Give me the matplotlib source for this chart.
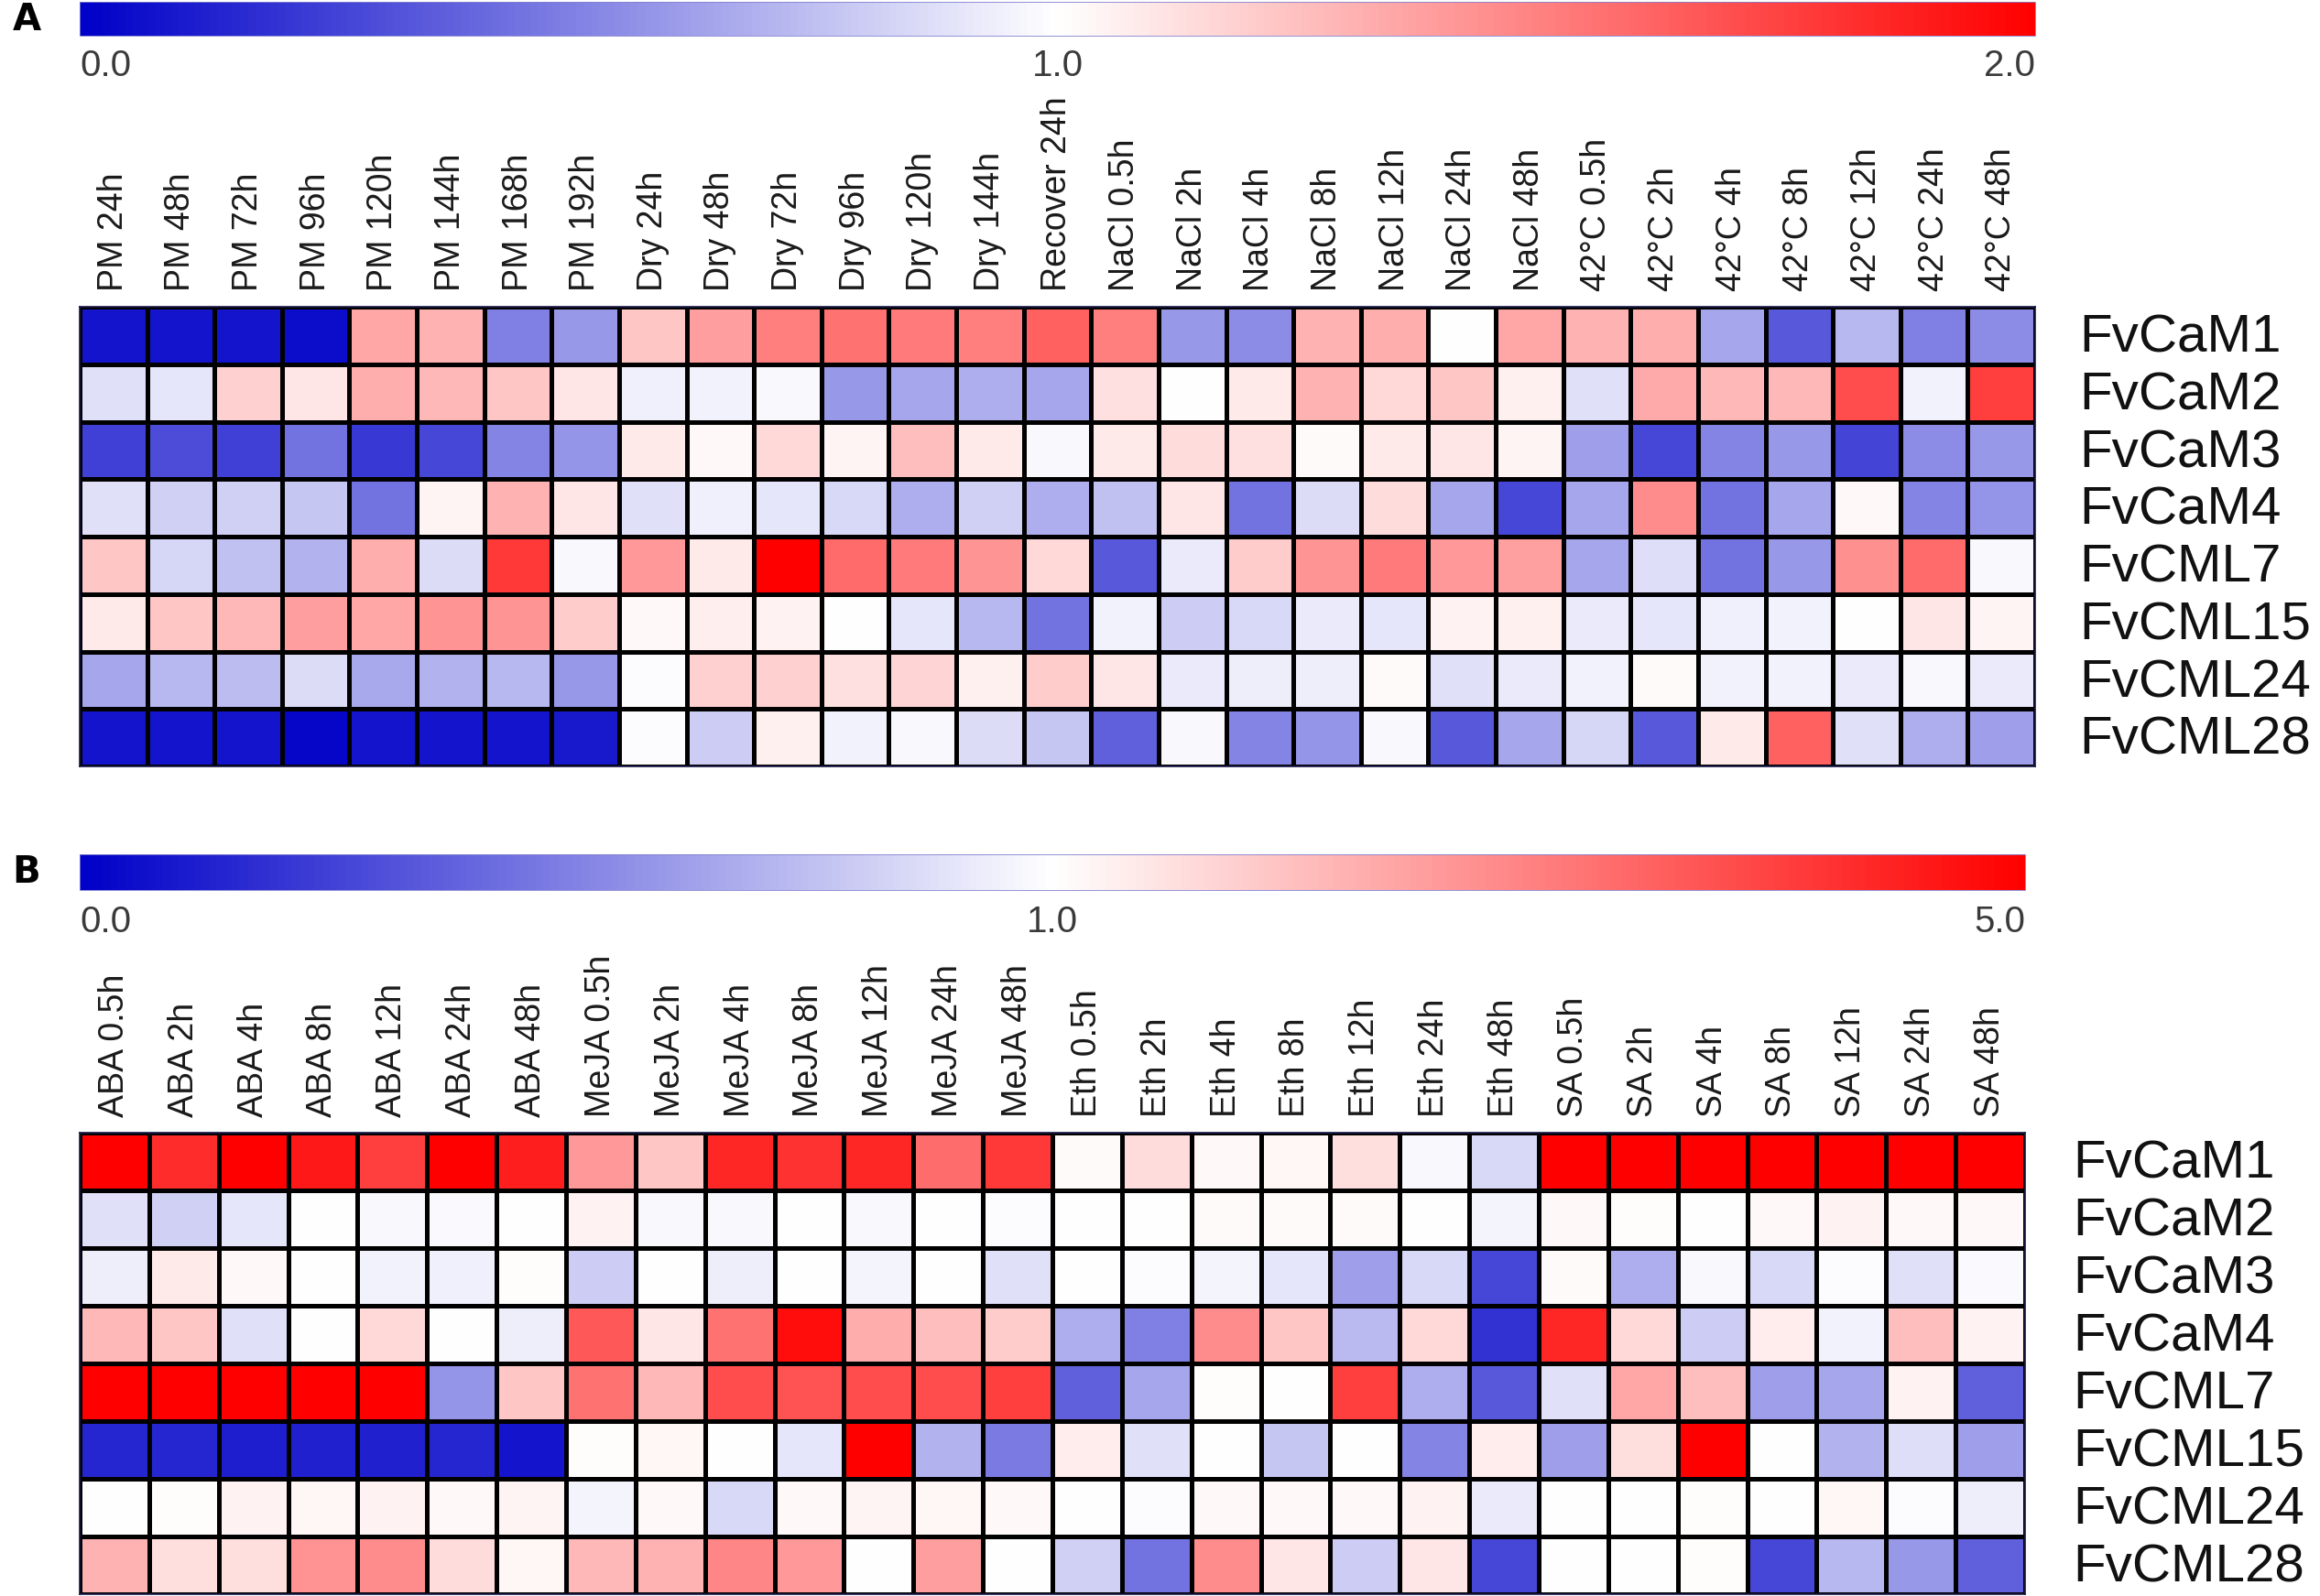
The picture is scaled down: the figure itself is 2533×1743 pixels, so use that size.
import numpy as np
import matplotlib
matplotlib.use("Agg")
import matplotlib.pyplot as plt
import matplotlib.transforms as mtransforms
from matplotlib.colors import LinearSegmentedColormap, Normalize, TwoSlopeNorm

plt.rcParams['font.family'] = ['Liberation Sans', 'DejaVu Sans']

genes = ["FvCaM1", "FvCaM2", "FvCaM3", "FvCaM4", "FvCML7", "FvCML15", "FvCML24", "FvCML28"]

cols_a = ["PM 24h", "PM 48h", "PM 72h", "PM 96h", "PM 120h", "PM 144h", "PM 168h", "PM 192h",
          "Dry 24h", "Dry 48h", "Dry 72h", "Dry 96h", "Dry 120h", "Dry 144h", "Recover 24h",
          "NaCl 0.5h", "NaCl 2h", "NaCl 4h", "NaCl 8h", "NaCl 12h", "NaCl 24h", "NaCl 48h",
          "42°C 0.5h", "42°C 2h", "42°C 4h", "42°C 8h", "42°C 12h", "42°C 24h", "42°C 48h"]

cols_b = ["ABA 0.5h", "ABA 2h", "ABA 4h", "ABA 8h", "ABA 12h", "ABA 24h", "ABA 48h",
          "MeJA 0.5h", "MeJA 2h", "MeJA 4h", "MeJA 8h", "MeJA 12h", "MeJA 24h", "MeJA 48h",
          "Eth 0.5h", "Eth 2h", "Eth 4h", "Eth 8h", "Eth 12h", "Eth 24h", "Eth 48h",
          "SA 0.5h", "SA 2h", "SA 4h", "SA 8h", "SA 12h", "SA 24h", "SA 48h"]

# Panel A relative expression (0-2, 1 = no change)
a_cam1 = [0.08, 0.08, 0.08, 0.05, 1.35, 1.30, 0.50, 0.60, 1.22, 1.38, 1.50, 1.55, 1.52, 1.50, 1.62,
          1.50, 0.60, 0.55, 1.30, 1.32, 1.00, 1.35, 1.30, 1.32, 0.65, 0.35, 0.72, 0.50, 0.55]
a_cam2 = [0.88, 0.90, 1.18, 1.10, 1.32, 1.28, 1.22, 1.10, 0.94, 0.95, 0.97, 0.60, 0.65, 0.68, 0.65,
          1.12, 1.00, 1.08, 1.30, 1.15, 1.22, 1.06, 0.88, 1.33, 1.28, 1.28, 1.70, 0.95, 1.75]
a_cam3 = [0.25, 0.30, 0.25, 0.45, 0.22, 0.28, 0.52, 0.58, 1.08, 1.03, 1.15, 1.04, 1.25, 1.08, 0.97,
          1.08, 1.14, 1.12, 1.02, 1.08, 1.10, 1.04, 0.62, 0.28, 0.52, 0.60, 0.27, 0.55, 0.60]
a_cam4 = [0.88, 0.82, 0.82, 0.78, 0.45, 1.04, 1.30, 1.10, 0.88, 0.94, 0.90, 0.85, 0.68, 0.82, 0.68,
          0.75, 1.10, 0.45, 0.86, 1.14, 0.65, 0.28, 0.65, 1.45, 0.45, 0.65, 1.03, 0.52, 0.58]
a_cml7 = [1.22, 0.84, 0.75, 0.70, 1.32, 0.86, 1.78, 0.97, 1.40, 1.08, 2.00, 1.58, 1.52, 1.42, 1.15,
          0.35, 0.92, 1.20, 1.42, 1.52, 1.40, 1.37, 0.65, 0.87, 0.45, 0.60, 1.43, 1.58, 0.97]
a_cml15 = [1.08, 1.22, 1.28, 1.38, 1.35, 1.42, 1.42, 1.20, 1.03, 1.07, 1.05, 1.00, 0.90, 0.72, 0.45,
           0.95, 0.80, 0.85, 0.92, 0.90, 1.05, 1.06, 0.92, 0.90, 0.94, 0.95, 1.00, 1.10, 1.04]
a_cml24 = [0.65, 0.72, 0.74, 0.86, 0.66, 0.70, 0.72, 0.60, 0.99, 1.18, 1.18, 1.12, 1.17, 1.06, 1.20,
           1.10, 0.92, 0.93, 0.93, 1.02, 0.88, 0.92, 0.95, 1.02, 0.95, 0.95, 0.92, 0.97, 0.92]
a_cml28 = [0.08, 0.08, 0.08, 0.03, 0.08, 0.08, 0.08, 0.10, 0.99, 0.80, 1.06, 0.95, 0.97, 0.86, 0.78,
           0.38, 0.97, 0.52, 0.58, 0.97, 0.35, 0.65, 0.84, 0.35, 1.08, 1.62, 0.88, 0.68, 0.62]

# Panel B relative expression (0-5, 1 = no change)
b_cam1 = [5.0, 4.3, 5.0, 4.6, 4.0, 5.0, 4.5, 2.6, 1.9, 4.4, 4.2, 4.4, 3.3, 4.1,
          1.08, 1.56, 1.10, 1.15, 1.50, 0.97, 0.85, 5.0, 5.0, 5.0, 5.0, 5.0, 5.0, 5.0]
b_cam2 = [0.88, 0.82, 0.90, 1.00, 0.97, 0.98, 1.00, 1.20, 0.97, 0.97, 1.00, 0.97, 1.00, 0.99,
          1.00, 1.00, 1.08, 1.08, 1.08, 1.00, 0.96, 1.12, 1.04, 1.00, 1.12, 1.20, 1.10, 1.12]
b_cam3 = [0.93, 1.32, 1.12, 1.00, 0.95, 0.94, 1.04, 0.80, 1.00, 0.93, 1.00, 0.96, 1.00, 0.88,
          1.00, 0.99, 0.96, 0.90, 0.62, 0.85, 0.28, 1.08, 0.68, 0.97, 0.85, 0.99, 0.88, 0.98]
b_cam4 = [2.1, 1.9, 0.88, 1.00, 1.6, 1.00, 0.93, 3.6, 1.4, 3.2, 4.8, 2.3, 2.0, 1.8,
          0.68, 0.50, 2.8, 1.9, 0.73, 1.6, 0.20, 4.4, 1.6, 0.80, 1.3, 0.95, 2.0, 1.2]
b_cml7 = [5.0, 5.0, 5.0, 5.0, 5.0, 0.58, 1.9, 3.2, 2.1, 3.8, 3.7, 3.8, 3.8, 4.0,
          0.38, 0.65, 1.05, 1.02, 4.0, 0.68, 0.35, 0.88, 2.4, 2.0, 0.62, 0.65, 1.2, 0.38]
b_cml15 = [0.15, 0.15, 0.12, 0.13, 0.13, 0.15, 0.08, 1.05, 1.15, 1.00, 0.90, 5.0, 0.70, 0.48,
           1.30, 0.88, 1.00, 0.78, 1.03, 0.52, 1.30, 0.62, 1.5, 5.0, 1.00, 0.70, 0.87, 0.62]
b_cml24 = [1.02, 1.05, 1.20, 1.15, 1.20, 1.10, 1.18, 0.96, 1.12, 0.85, 1.12, 1.18, 1.15, 1.10,
           1.00, 0.99, 1.10, 1.10, 1.12, 1.20, 0.92, 1.00, 1.00, 1.05, 1.00, 1.15, 0.99, 0.93]
b_cml28 = [2.2, 1.5, 1.5, 2.7, 2.8, 1.55, 1.15, 2.1, 2.2, 2.9, 2.6, 1.00, 2.5, 1.00,
           0.82, 0.45, 2.8, 1.4, 0.80, 1.4, 0.28, 1.00, 1.00, 1.04, 0.28, 0.72, 0.60, 0.38]

data_a = np.array([a_cam1, a_cam2, a_cam3, a_cam4, a_cml7, a_cml15, a_cml24, a_cml28])
data_b = np.array([b_cam1, b_cam2, b_cam3, b_cam4, b_cml7, b_cml15, b_cml24, b_cml28])

cmap = LinearSegmentedColormap.from_list("bwr_custom", ["#0000c8", "#ffffff", "#ff0000"])

W, H = 2533, 1743
fig = plt.figure(figsize=(W / 100, H / 100), dpi=100)


def fx(px):
    return px / W


def fy(px):
    return 1 - px / H


def panel(data, cols, norm, ticklabels, hm_box, cb_box, letter, letter_pos, lab_bottom, tick_y, row_x):
    x0, x1, y0, y1 = hm_box
    ax = fig.add_axes([fx(x0), fy(y1), fx(x1 - x0), (y1 - y0) / H])
    mesh = ax.pcolormesh(data, cmap=cmap, norm=norm, edgecolors="black", linewidth=2.4)
    ax.set_xlim(0, data.shape[1])
    ax.set_ylim(data.shape[0], 0)
    ax.set_xticks([])
    ax.set_yticks([])
    for s in ax.spines.values():
        s.set_color("#1a1a4a")
        s.set_linewidth(1.2)
    row_tr = mtransforms.blended_transform_factory(ax.transAxes, ax.transData)
    for i, g in enumerate(genes):
        ax.text(1.0 + (row_x - x1) / (x1 - x0), i + 0.55, g, transform=row_tr,
                ha="left", va="center", fontsize=42, color="#111111")
    col_tr = mtransforms.blended_transform_factory(ax.transData, ax.transAxes)
    for j, c in enumerate(cols):
        ax.text(j + 0.5, 1.0 + (y0 - lab_bottom) / (y1 - y0), c, transform=col_tr,
                rotation=90, ha="center", va="bottom", fontsize=27, color="#1a1a1a")
    cx0, cx1, cy0, cy1 = cb_box
    cax = fig.add_axes([fx(cx0), fy(cy1), fx(cx1 - cx0), (cy1 - cy0) / H])
    cb = fig.colorbar(mesh, cax=cax, orientation="horizontal")
    cb.outline.set_linewidth(0.6)
    cb.outline.set_edgecolor("#8080d0")
    cax.set_xticks([])
    xs = [cx0, (cx0 + cx1) / 2, cx1]
    has = ["left", "center", "right"]
    for xp, t, ha in zip(xs, ticklabels, has):
        fig.text(fx(xp), fy(tick_y), t, ha=ha, va="center", fontsize=29, color="#3a3a3a")
    fig.text(fx(letter_pos[0]), fy(letter_pos[1]), letter, ha="left", va="center",
             fontsize=29, fontweight="bold", family="DejaVu Sans", color="black")
    return ax


panel(data_a, cols_a, Normalize(vmin=0, vmax=2), ["0.0", "1.0", "2.0"],
      (87, 2222, 335, 837), (87, 2222, 2, 39), "A", (14, 22), 318, 72, 2270)
panel(data_b, cols_b, TwoSlopeNorm(vcenter=1, vmin=0, vmax=5), ["0.0", "1.0", "5.0"],
      (87, 2211, 1237, 1741), (87, 2211, 933, 972), "B", (13, 953), 1220, 1007, 2263)

fig.savefig("out.png", dpi=100)
